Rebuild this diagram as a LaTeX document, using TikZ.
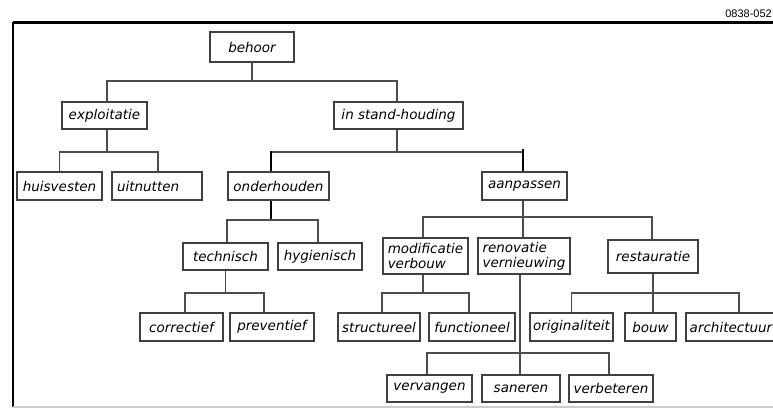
\documentclass[tikz,border=0pt]{standalone}
\usepackage{fontspec}
\setmainfont{DejaVu Sans}
\newfontfamily\codefont{Liberation Sans}
\begin{document}
\begin{tikzpicture}[x=1pt, y=-1pt,
  box/.style={draw=black!75, line width=1.2pt, fill=white,
    font=\fontsize{13.5}{15}\selectfont\itshape, inner sep=2pt,
    minimum height=27pt, align=left},
  link/.style={draw=black!70, line width=1.2pt},
  heavy/.style={draw=black, line width=2.2pt},
  frame/.style={draw=black, line width=3pt}]
\useasboundingbox (0,0) rectangle (773,417);

% outer frame, open on the right
\draw[frame] (13,23) -- (780,23);
\draw[draw=black, line width=2pt] (13,22) -- (13,407);
\draw[draw=black!20, line width=2pt] (13,407) -- (780,407);
\node[anchor=south east, inner sep=0pt, font=\codefont\fontsize{11}{13}\selectfont] (code) at (772,18) {0838-052};

% boxes
\node[box, minimum width=84pt, minimum height=30pt] (behoor) at (252,47) {behoor};
\node[box, minimum width=85pt] (exploitatie) at (104.5,115.5) {exploitatie};
\node[box, minimum width=129pt] (instand) at (398.5,115.5) {in stand-houding};

\node[box, minimum width=85pt, minimum height=28pt] (huisvesten) at (59.5,186) {huisvesten};
\node[box, minimum width=90pt, minimum height=28pt, text width=80pt] (uitnutten) at (157,186) {uitnutten};
\node[box, minimum width=101pt, minimum height=28pt] (onderhouden) at (278.5,186) {onderhouden};
\node[box, minimum width=85pt, minimum height=28pt] (aanpassen) at (524.5,186) {aanpassen};

\node[box, minimum width=85pt] (technisch) at (225.5,256.5) {technisch};
\node[box, minimum width=84pt] (hygienisch) at (320,256.5) {hygienisch};
\node[box, minimum width=85pt, minimum height=36pt] (modificatie) at (425.5,256) {modificatie\\verbouw};
\node[box, minimum width=92pt, minimum height=36pt] (renovatie) at (524,256) {renovatie\\vernieuwing};
\node[box, minimum width=90pt, minimum height=33pt] (restauratie) at (653,256.5) {restauratie};

\node[box, minimum width=83pt, minimum height=28pt] (correctief) at (181.5,327) {correctief};
\node[box, minimum width=84pt, minimum height=28pt] (preventief) at (272,327) {preventief};
\node[box, minimum width=82pt, minimum height=28pt] (structureel) at (379,327) {structureel};
\node[box, minimum width=86pt, minimum height=28pt] (functioneel) at (472,327) {functioneel};
\node[box, minimum width=83pt, minimum height=28pt] (originaliteit) at (571.5,327) {originaliteit};
\node[box, minimum width=51pt, minimum height=28pt] (bouw) at (650.5,327) {bouw};
\node[box, minimum width=90pt, minimum height=28pt] (architectuur) at (731,327) {architectuur};

\node[box, minimum width=85pt] (vervangen) at (429.5,388.5) {vervangen};
\node[box, minimum width=78pt] (saneren) at (521,388.5) {saneren};
\node[box, minimum width=84pt] (verbeteren) at (611,388.5) {verbeteren};

% behoor -> exploitatie, in stand-houding
\draw[link] (behoor.south) -- (behoor.south |- 0,81);
\draw[link] ([xshift=2.5pt]exploitatie.north) |- ([xshift=-1.5pt]instand.north |- 0,81) -- ([xshift=-1.5pt]instand.north);

% exploitatie -> huisvesten, uitnutten
\draw[link] ([xshift=2.5pt]exploitatie.south) -- ([xshift=2.5pt]exploitatie.south |- 0,152);
\draw[link] (huisvesten.north) |- ([xshift=1pt]uitnutten.north |- 0,152) -- ([xshift=1pt]uitnutten.north);

% in stand-houding -> onderhouden, aanpassen
\draw[link] ([xshift=-1.5pt]instand.south) -- ([xshift=-1.5pt]instand.south |- 0,152);
\draw[link] ([xshift=-7.5pt]onderhouden.north |- 0,152) -- ([xshift=-1.5pt]aanpassen.north |- 0,152);
\draw[heavy] ([xshift=-7.5pt]onderhouden.north |- 0,151) -- ([xshift=-7.5pt]onderhouden.north);
\draw[heavy] ([xshift=-1.5pt]aanpassen.north |- 0,149) -- ([xshift=-1.5pt]aanpassen.north);

% onderhouden -> technisch, hygienisch
\draw[heavy] ([xshift=-7.5pt]onderhouden.south) -- ([xshift=-7.5pt]onderhouden.south |- 0,220);
\draw[link] ([xshift=1.5pt]technisch.north) |- ([xshift=-2pt]hygienisch.north |- 0,220) -- ([xshift=-2pt]hygienisch.north);

% aanpassen -> modificatie, renovatie, restauratie
\draw[link] ([xshift=-1.5pt]aanpassen.south) -- ([xshift=-1pt]renovatie.north);
\draw[link] ([xshift=-2.5pt]modificatie.north) |- ([xshift=-1pt]restauratie.north |- 0,217) -- ([xshift=-1pt]restauratie.north);

% technisch -> correctief, preventief
\draw[link] (technisch.south) -- (technisch.south |- 0,293);
\draw[link] ([xshift=3.5pt]correctief.north) |- ([xshift=-8pt]preventief.north |- 0,293) -- ([xshift=-8pt]preventief.north);

% modificatie -> structureel, functioneel
\draw[link] ([xshift=-2.5pt]modificatie.south) -- ([xshift=-2.5pt]modificatie.south |- 0,293);
\draw[link] ([xshift=3pt]structureel.north) |- ([xshift=-3pt]functioneel.north |- 0,293) -- ([xshift=-3pt]functioneel.north);

% restauratie -> originaliteit, bouw, architectuur
\draw[link] (restauratie.south) -- ([xshift=2.5pt]bouw.north);
\draw[link] (originaliteit.north) |- ([xshift=8pt]architectuur.north |- 0,293) -- ([xshift=8pt]architectuur.north);

% renovatie -> vervangen, saneren, verbeteren
\draw[link] ([xshift=-4pt]renovatie.south) -- ([xshift=-1pt]saneren.north);
\draw[link] ([xshift=-2.5pt]vervangen.north) |- ([xshift=-2pt]verbeteren.north |- 0,353) -- ([xshift=-2pt]verbeteren.north);
\end{tikzpicture}
\end{document}
